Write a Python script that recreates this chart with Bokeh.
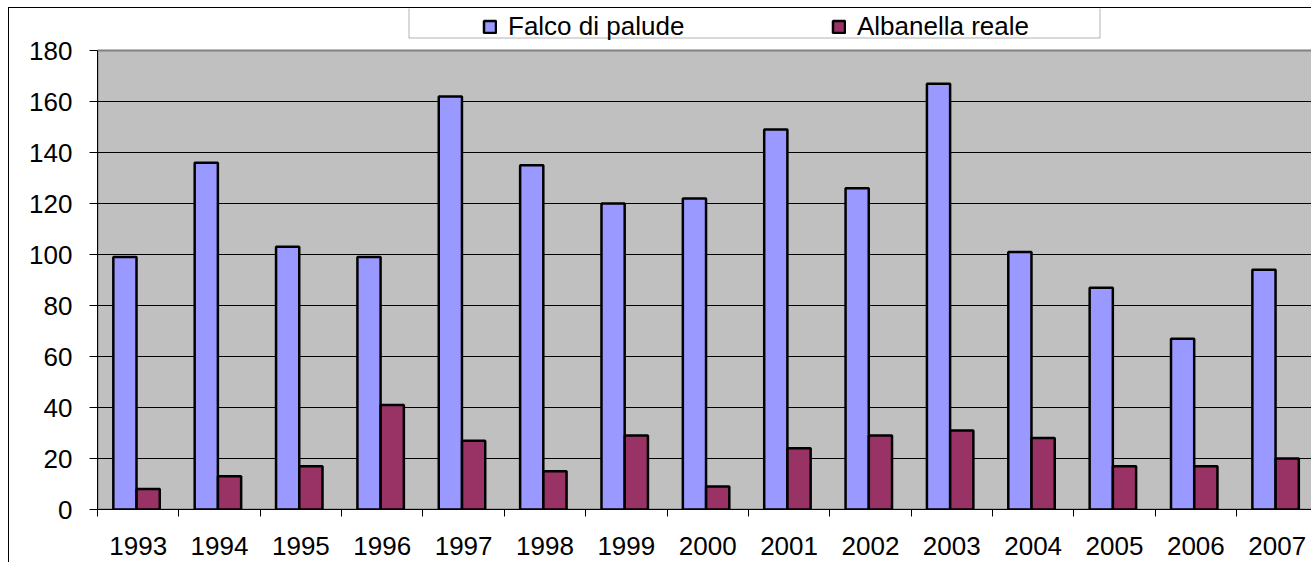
import numpy as np
from bokeh.plotting import figure
from bokeh.models import (Range1d, FixedTicker, Legend, LegendItem, BoxAnnotation,
                          ColumnDataSource)
from bokeh.embed import file_html
from bokeh.resources import INLINE

years = ["1993", "1994", "1995", "1996", "1997", "1998", "1999", "2000",
         "2001", "2002", "2003", "2004", "2005", "2006", "2007"]
falco = [99, 136, 103, 99, 162, 135, 120, 122, 149, 126, 167, 101, 87, 67, 94]
albanella = [8, 13, 17, 41, 27, 15, 29, 9, 24, 29, 31, 28, 17, 17, 20]
y_ticks = list(range(0, 181, 20))

FONT = "Liberation Sans"
FS = "26px"

n = len(years)
centers = np.arange(n) + 0.5
shift = -0.02
off = 0.143
bw = 0.285
src = ColumnDataSource(dict(xf=centers + shift - off, xa=centers + shift + off,
                            falco=falco, albanella=albanella))

# geometry (pixels): plot area 459 px tall for 0..180, frame extends 42 px above
area_h = 459
frame_h = 501
ymax = y_ticks[-1]
y_top = ymax * frame_h / area_h
frame_w = 1215
cat_px = 81.36

p = figure(width=1303, height=555, output_backend="svg", toolbar_location=None,
           x_range=Range1d(0, frame_w / cat_px), y_range=Range1d(0, y_top),
           min_border_left=88, min_border_right=0, min_border_top=0,
           min_border_bottom=54,
           background_fill_color="white", border_fill_color="white",
           outline_line_color=None)
p.margin = (7, 0, 0, 8)
p.styles = {"border-top": "1px solid black", "border-left": "1px solid black"}

# plot area (grey) behind grid lines
p.quad(left=0, right=n, bottom=0, top=ymax, fill_color="#C0C0C0",
       line_color="#808080", line_width=2, level="image")

r1 = p.vbar(x="xf", top="falco", bottom=0, width=bw, source=src,
            fill_color="#9999FF", line_color="black", line_width=2.5)
r2 = p.vbar(x="xa", top="albanella", bottom=0, width=bw, source=src,
            fill_color="#993366", line_color="black", line_width=2.5)

# x axis: labels at category centres, tick marks at category boundaries
xa = p.xaxis[0]
xa.ticker = FixedTicker(ticks=list(centers), minor_ticks=list(range(n + 1)))
xa.major_label_overrides = {float(c): y for c, y in zip(centers, years)}
xa.major_tick_out = 0
xa.major_tick_in = 0
xa.minor_tick_out = 7
xa.minor_tick_in = 0
xa.minor_tick_line_color = "black"
xa.axis_line_color = "black"
xa.major_label_standoff = 20
xa.major_label_text_font = FONT
xa.major_label_text_font_size = FS
xa.major_label_text_color = "black"

# y axis
ya = p.yaxis[0]
ya.ticker = FixedTicker(ticks=y_ticks)
ya.bounds = (0, ymax)
ya.major_tick_out = 8
ya.major_tick_in = 0
ya.minor_tick_line_color = None
ya.axis_line_color = "black"
ya.major_tick_line_color = "black"
ya.major_label_standoff = 17
ya.major_label_text_font = FONT
ya.major_label_text_font_size = FS
ya.major_label_text_color = "black"

p.xgrid.visible = False
p.ygrid.ticker = FixedTicker(ticks=y_ticks[:-1])
p.ygrid.grid_line_color = "black"
p.ygrid.grid_line_width = 1
p.ygrid.level = "underlay"

# legend box (top edge coincides with the chart border)
lbox = BoxAnnotation(left=311.5, right=1002.5, bottom=471.5, top=frame_h + 2,
                     left_units="screen", right_units="screen",
                     top_units="screen", bottom_units="screen",
                     fill_color="white", fill_alpha=1,
                     line_color="black", line_width=1, level="underlay")
p.add_layout(lbox)

legend = Legend(items=[LegendItem(label="Falco di palude", renderers=[r1]),
                       LegendItem(label="Albanella reale", renderers=[r2])],
                orientation="horizontal", location=(385, 467),
                padding=0, margin=0, spacing=123, label_width=200,
                label_height=30, glyph_width=15, glyph_height=15,
                label_standoff=11,
                border_line_alpha=0, background_fill_alpha=0,
                label_text_font=FONT, label_text_font_size=FS,
                label_text_color="black")
p.add_layout(legend)

open("out.html", "w").write(file_html(p, INLINE))
